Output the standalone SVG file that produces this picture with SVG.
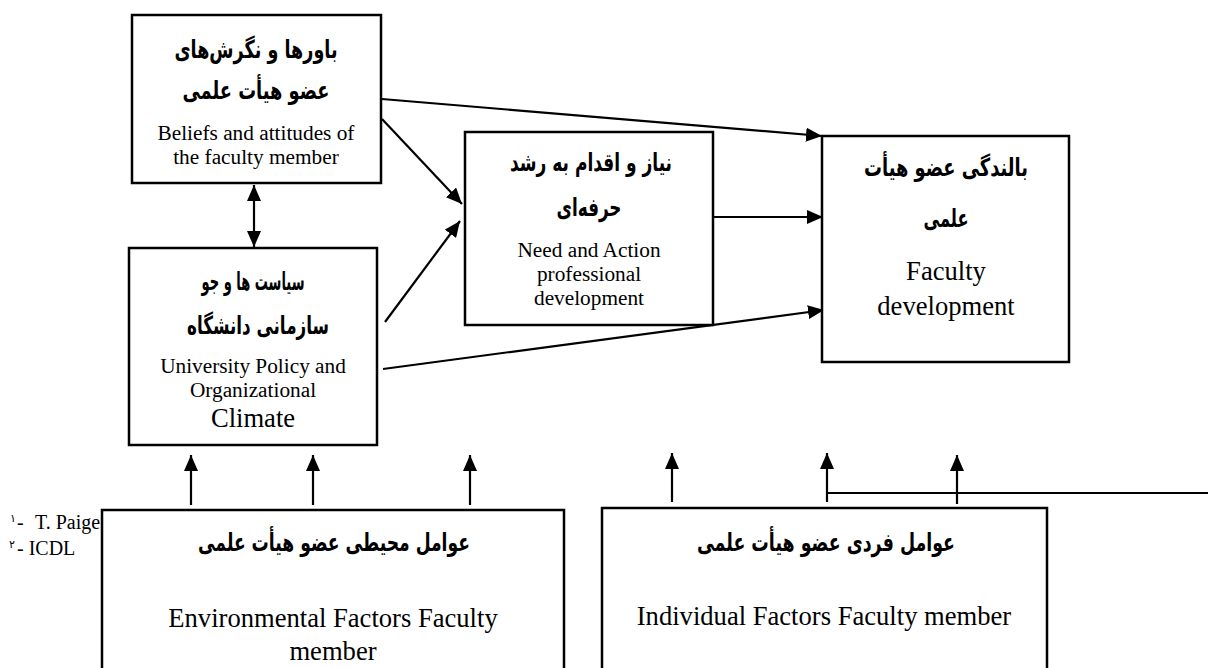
<svg xmlns="http://www.w3.org/2000/svg" width="1208" height="668" viewBox="0 0 1208 668">
<style>
.box{fill:#fff;stroke:#000;stroke-width:2.5}
.fa{font-family:"DejaVu Sans","Liberation Serif",sans-serif;font-weight:bold;font-size:25px;text-anchor:middle;fill:#000}
.en{font-family:"Liberation Serif","Times New Roman",serif;font-size:21.3px;text-anchor:middle;fill:#000}
.big{font-size:26.6px}
.fn{font-family:"Liberation Serif",serif;font-size:20px;fill:#000}
.sup{font-family:"DejaVu Sans",sans-serif;font-size:11px}
.c{stroke:#000;stroke-width:2.2;fill:none;marker-end:url(#ah)}
</style>
<defs>
<marker id="ah" markerUnits="userSpaceOnUse" markerWidth="16" markerHeight="14" refX="16" refY="7" orient="auto-start-reverse">
<path d="M0,0 L16,7 L0,14 z" fill="#000"/>
</marker>
</defs>
<g id="footnotes">
<text class="fn" y="529"><tspan class="sup" x="10" y="522">۱</tspan><tspan x="17" y="529">-</tspan><tspan x="35" y="529">T. Paige</tspan></text>
<text class="fn" y="555"><tspan class="sup" x="9" y="548">۲</tspan><tspan x="17" y="555">- ICDL</tspan></text>
</g>
<g id="connectors">
<line class="c" x1="382" y1="99" x2="822" y2="136"/>
<line class="c" x1="382" y1="119" x2="462" y2="204"/>
<line class="c" x1="385" y1="322" x2="460" y2="221"/>
<line class="c" x1="713" y1="217" x2="823" y2="217"/>
<line class="c" x1="383" y1="369" x2="824" y2="310"/>
<line class="c" x1="254" y1="185" x2="254" y2="247" style="marker-start:url(#ah)"/>
<line class="c" x1="191" y1="505" x2="191" y2="455"/>
<line class="c" x1="313" y1="505" x2="313" y2="455"/>
<line class="c" x1="470" y1="505" x2="470" y2="455"/>
<line class="c" x1="672" y1="502" x2="672" y2="453"/>
<line class="c" x1="827" y1="502" x2="827" y2="453"/>
<line class="c" x1="957" y1="504" x2="957" y2="455"/>
<line x1="827" y1="493" x2="1208" y2="493" stroke="#000" stroke-width="2.2"/>
</g>
<g id="beliefs">
<rect class="box" x="132" y="15" width="249" height="168"/>
<text class="fa" x="256" y="58" textLength="163" lengthAdjust="spacingAndGlyphs">باورها و نگرش‌های</text>
<text class="fa" x="256" y="99" textLength="147" lengthAdjust="spacingAndGlyphs">عضو هیأت علمی</text>
<text class="en" x="256" y="140">Beliefs and attitudes of</text>
<text class="en" x="256" y="164">the faculty member</text>
</g>
<g id="policy">
<rect class="box" x="129" y="248" width="248" height="197"/>
<text class="fa" x="253" y="290" textLength="103" lengthAdjust="spacingAndGlyphs">سیاست ها و جو</text>
<text class="fa" x="258" y="334" textLength="142" lengthAdjust="spacingAndGlyphs">سازمانی دانشگاه</text>
<text class="en" x="253" y="373">University Policy and</text>
<text class="en" x="253" y="397">Organizational</text>
<text class="en big" x="253" y="427">Climate</text>
</g>
<g id="need">
<rect class="box" x="465" y="132" width="248" height="193"/>
<text class="fa" x="591" y="171" textLength="162" lengthAdjust="spacingAndGlyphs">نیاز و اقدام به رشد</text>
<text class="fa" x="589" y="216" textLength="65" lengthAdjust="spacingAndGlyphs">حرفه‌ای</text>
<text class="en" x="589" y="257">Need and Action</text>
<text class="en" x="589" y="281">professional</text>
<text class="en" x="589" y="305">development</text>
</g>
<g id="faculty">
<rect class="box" x="822" y="136" width="247" height="226"/>
<text class="fa" x="946" y="176" textLength="164" lengthAdjust="spacingAndGlyphs">بالندگی عضو هیأت</text>
<text class="fa" x="946" y="227" textLength="45" lengthAdjust="spacingAndGlyphs">علمی</text>
<text class="en big" x="946" y="280">Faculty</text>
<text class="en big" x="946" y="315">development</text>
</g>
<g id="environmental">
<rect class="box" x="102" y="510" width="462" height="175"/>
<text class="fa" x="334" y="551" textLength="272" lengthAdjust="spacingAndGlyphs">عوامل محیطی عضو هیأت علمی</text>
<text class="en big" x="333" y="627">Environmental Factors Faculty</text>
<text class="en big" x="333" y="660">member</text>
</g>
<g id="individual">
<rect class="box" x="602" y="508" width="445" height="175"/>
<text class="fa" x="826" y="551" textLength="258" lengthAdjust="spacingAndGlyphs">عوامل فردی عضو هیأت علمی</text>
<text class="en big" x="824" y="625">Individual Factors Faculty member</text>
</g>
</svg>
